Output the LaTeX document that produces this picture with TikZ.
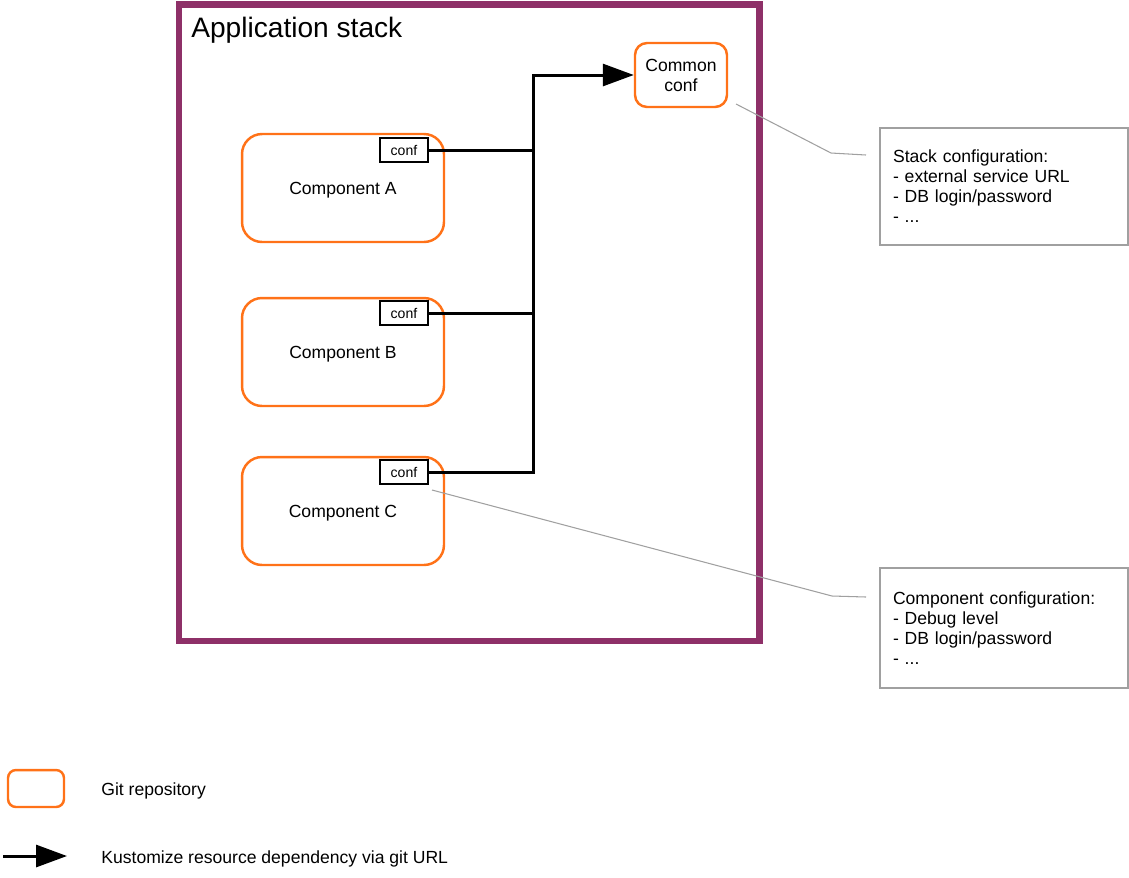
\documentclass[tikz,border=0pt]{standalone}
\usepackage{fontspec}
\setmainfont{Liberation Sans}
\usetikzlibrary{arrows.meta}
\definecolor{stackpurple}{RGB}{142,48,104}
\definecolor{repoorange}{RGB}{255,114,24}
\definecolor{notegray}{RGB}{160,160,160}

\begin{document}
\begin{tikzpicture}[x=0.02cm, y=-0.02cm, font=\fontsize{10}{11.4}\selectfont,
    repo/.style={draw=repoorange, line width=1.4pt, rounded corners=0.4cm},
    component/.style={repo, minimum width=4.04cm, minimum height=2.16cm, text depth=0pt},
    confbox/.style={draw, fill=white, line width=0.6pt, inner sep=0pt, minimum width=0.96cm, minimum height=0.48cm, font=\fontsize{8}{9}\selectfont},
    note/.style={draw=notegray, line width=0.8pt, align=left, text width=4.44cm, inner xsep=0.26cm, inner ysep=0pt},
    legendtext/.style={anchor=west, inner sep=0pt, text depth=0pt},
    callout/.style={draw=notegray, line width=0.6pt},
    bus/.style={line width=1.7pt},
    dep/.style={line width=1.7pt, -{Triangle[length=0.62cm, width=0.44cm]}}]
        \useasboundingbox (0,0) rectangle (1129,877);
        % Frame
        \draw[stackpurple, line width=0.13cm] (179,4.5) rectangle (759.5,641);
        \node[anchor=base west, inner sep=0pt, font=\fontsize{16}{19}\selectfont] (title) at (191,37) {Application stack};
        % Components
        \node[component] (compA) at (343,188) {Component A};
        \node[component] (compB) at (343,352) {Component B};
        \node[component] (compC) at (343,511) {Component C};
        \node[confbox] (confA) at (404,150) {conf};
        \node[confbox] (confB) at (404,313) {conf};
        \node[confbox] (confC) at (404,472) {conf};
        \node[repo, rounded corners=0.24cm, minimum width=1.84cm, minimum height=1.28cm, align=center] (common) at (681,75) {Common\\conf};
        % Dependencies
        \coordinate (joint) at (533,75);
        \draw[dep] (confC.east) -| (joint) -- (common.west);
        \draw[bus] (confA.east) -- (confA.east -| joint);
        \draw[bus] (confB.east) -- (confB.east -| joint);
        % Notes
        \node[note, minimum height=2.34cm] (stacknote) at (1004,186.5) {Stack configuration:\\- external service URL\\- DB login/password\\- ...};
        \node[note, minimum height=2.4cm] (compnote) at (1004,628) {Component configuration:\\- Debug level\\- DB login/password\\- ...};
        \coordinate (stackhook) at (736,104);
        \coordinate (stacktip) at (866,155);
        \coordinate (comphook) at (432,490);
        \coordinate (comptip) at (866,597);
        \draw[callout] (stackhook) -- (831,153) -- (stacktip);
        \draw[callout] (comphook) -- (832,596) -- (comptip);
        % Legend
        \node[repo, rounded corners=0.16cm, minimum width=1.12cm, minimum height=0.74cm] (legrepo) at (36,788.5) {};
        \node[legendtext] (legrepotext) at (101,789) {Git repository};
        \coordinate (legstart) at (3,856);
        \coordinate (legend) at (67,856);
        \draw[dep] (legstart) -- (legend);
        \node[legendtext] (legdeptext) at (101,857) {Kustomize resource dependency via git URL};
    \end{tikzpicture}
\end{document}
